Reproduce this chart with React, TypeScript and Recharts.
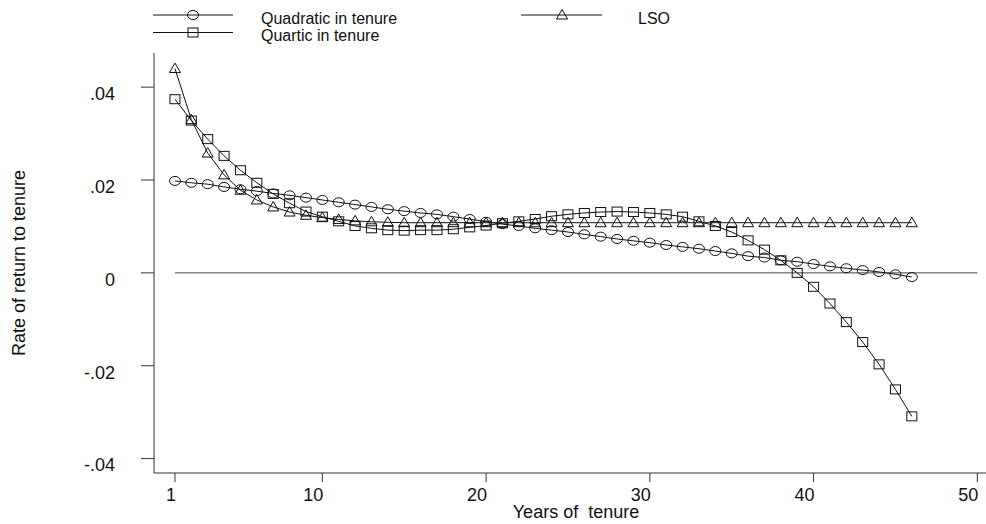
import { LineChart, Line, XAxis, YAxis, ReferenceLine, Legend } from 'recharts'

const tenure = [1, 2, 3, 4, 5, 6, 7, 8, 9, 10, 11, 12, 13, 14, 15, 16, 17, 18, 19, 20, 21, 22, 23, 24, 25, 26, 27, 28, 29, 30, 31, 32, 33, 34, 35, 36, 37, 38, 39, 40, 41, 42, 43, 44, 45, 46]

const quadratic = [
  0.0198, 0.0194, 0.0191, 0.0185, 0.018, 0.0176, 0.0171, 0.0167, 0.0162, 0.0157,
  0.0152, 0.0147, 0.0142, 0.0137, 0.0133, 0.0129, 0.0126, 0.0121, 0.0116, 0.011,
  0.0105, 0.0101, 0.0096, 0.0092, 0.0088, 0.0083, 0.0078, 0.0073, 0.0069, 0.0065,
  0.006, 0.0056, 0.0052, 0.0047, 0.0042, 0.0036, 0.0033, 0.0027, 0.0024, 0.0019,
  0.0014, 0.001, 0.0006, 0.0002, -0.0003, -0.0009,
]

const quartic = [
  0.0374, 0.0328, 0.0288, 0.0252, 0.0221, 0.0194, 0.017, 0.015, 0.0132, 0.0121,
  0.0111, 0.0101, 0.0096, 0.0092, 0.0091, 0.0092, 0.0092, 0.0094, 0.0098, 0.0102,
  0.0107, 0.0111, 0.0116, 0.0122, 0.0126, 0.0129, 0.0131, 0.0132, 0.0131, 0.0129,
  0.0126, 0.0121, 0.0111, 0.0101, 0.0088, 0.007, 0.005, 0.0027, 0.0, -0.003,
  -0.0066, -0.0106, -0.0149, -0.0197, -0.0251, -0.0309,
]

const lso = [
  0.044, 0.033, 0.0258, 0.0211, 0.0178, 0.0157, 0.0142, 0.0131, 0.0124, 0.0119,
  0.0115, 0.0112, 0.011, 0.0109, 0.0108, 0.0108, 0.0108, 0.0108, 0.0108, 0.0108,
  0.0108, 0.0108, 0.0108, 0.0108, 0.0108, 0.0108, 0.0108, 0.0108, 0.0108, 0.0108,
  0.0108, 0.0108, 0.0108, 0.0108, 0.0108, 0.0108, 0.0108, 0.0108, 0.0108, 0.0108,
  0.0108, 0.0108, 0.0108, 0.0108, 0.0108, 0.0108,
]

const xTicks = [1, 10, 20, 30, 40, 50]
const yTicks = [-0.04, -0.02, 0, 0.02, 0.04]

const data = tenure.map((t, i) => ({ tenure: t, quadratic: quadratic[i], quartic: quartic[i], lso: lso[i] }))

const FONT = '"Liberation Sans", Arial, sans-serif'
const INK = '#111'

const fmtY = (v: number) => {
  if (Math.abs(v) < 1e-9) return '0'
  return (v < 0 ? '-' : '') + Math.abs(v).toFixed(2).replace(/^0/, '')
}

const CircleDot = ({ cx, cy }: any) =>
  cx == null ? null : <ellipse cx={cx} cy={cy} rx={5.5} ry={4.5} fill="none" stroke={INK} strokeWidth={1} />
const SquareDot = ({ cx, cy }: any) =>
  cx == null ? null : <rect x={cx - 5} y={cy - 4.5} width={10} height={9} fill="none" stroke={INK} strokeWidth={1} />
const TriangleDot = ({ cx, cy }: any) =>
  cx == null ? null : (
    <polygon points={`${cx},${cy - 5.5} ${cx - 5.5},${cy + 4} ${cx + 5.5},${cy + 4}`} fill="none" stroke={INK} strokeWidth={1} />
  )

// stata puts the x labels just left of the tick
const XTick = ({ x, y, payload }: any) => (
  <text x={x + 1} y={y} dy="0.71em" textAnchor="end" fontFamily={FONT} fontSize={18} fill={INK}>
    {payload.value}
  </text>
)

// and the y labels hang just under their tick
const YTick = ({ x, y, payload }: any) => (
  <text x={x} y={y} dy="0.71em" textAnchor="end" fontFamily={FONT} fontSize={18} fill={INK}>
    {fmtY(payload.value)}
  </text>
)

const LegendBox = () => (
  <svg width={986} height={46} style={{ display: 'block' }}>
    <g stroke={INK} strokeWidth={1}>
      <line x1={153} y1={15} x2={233} y2={15} />
      <line x1={153} y1={32.5} x2={233} y2={32.5} />
      <line x1={521} y1={15} x2={602} y2={15} />
    </g>
    <CircleDot cx={193} cy={15} />
    <SquareDot cx={193} cy={32.5} />
    <TriangleDot cx={562} cy={15} />
    <g fontFamily={FONT} fontSize={16} fill={INK}>
      <text x={261} y={23.5}>Quadratic in tenure</text>
      <text x={261} y={41}>Quartic in tenure</text>
      <text x={638} y={23.5}>LSO</text>
    </g>
  </svg>
)

export default function App() {
  return (
    <div style={{ position: 'absolute', left: 0, top: 0, background: '#fff' }}>
      <LineChart width={986} height={524} data={data} margin={{ top: 53, right: 0, bottom: 0, left: 0 }}>
        <XAxis
          dataKey="tenure"
          type="number"
          domain={[-0.28, 50.53]}
          ticks={xTicks}
          allowDataOverflow
          height={51}
          tickSize={9}
          tickMargin={6}
          stroke="#333"
          tick={<XTick />}
          label={{
            content: () => (
              <text x={576} y={518} textAnchor="middle" fontFamily={FONT} fontSize={18} fill={INK}>
                Years of{'\u00a0'} tenure
              </text>
            ),
          }}
        />
        <YAxis
          type="number"
          domain={[-0.0431, 0.04735]}
          ticks={yTicks}
          allowDataOverflow
          width={154}
          tickSize={13}
          tickMargin={26}
          stroke="#333"
          tick={<YTick />}
          label={{
            content: () => (
              <text x={25} y={263} transform="rotate(-90, 25, 263)" textAnchor="middle" fontFamily={FONT} fontSize={18} fill={INK}>
                Rate of return to tenure
              </text>
            ),
          }}
        />
        <ReferenceLine segment={[{ x: 1, y: 0 }, { x: 50, y: 0 }]} stroke="#444" strokeWidth={1} />
        <Legend
          layout="vertical"
          align="center"
          verticalAlign="middle"
          content={() => <LegendBox />}
          wrapperStyle={{ top: 0, left: 0, width: 986, height: 46 }}
        />
        <Line dataKey="quadratic" type="linear" stroke={INK} strokeWidth={1} dot={<CircleDot />} activeDot={false} isAnimationActive={false} />
        <Line dataKey="quartic" type="linear" stroke={INK} strokeWidth={1} dot={<SquareDot />} activeDot={false} isAnimationActive={false} />
        <Line dataKey="lso" type="linear" stroke={INK} strokeWidth={1} dot={<TriangleDot />} activeDot={false} isAnimationActive={false} />
      </LineChart>
    </div>
  )
}
